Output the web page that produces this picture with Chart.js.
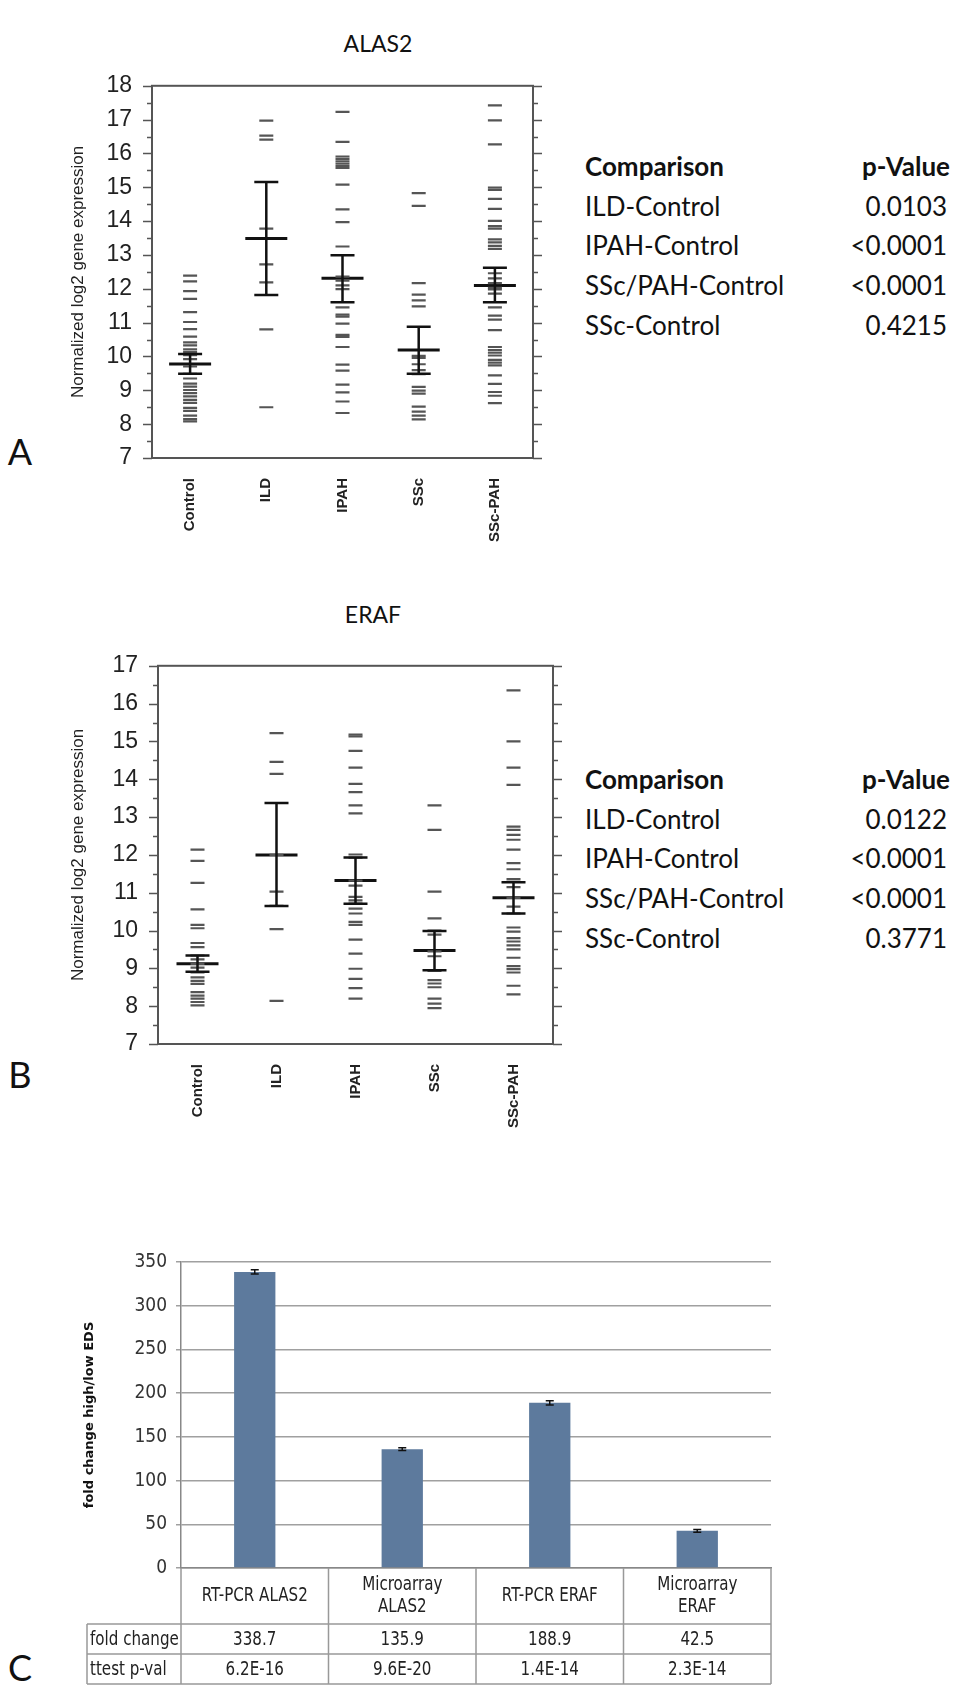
<!DOCTYPE html>
<html>
<head>
<meta charset="utf-8">
<script src="https://cdn.jsdelivr.net/npm/chart.js@4/dist/chart.umd.min.js"></script>
<style>
  body { margin: 0; width: 956px; height: 1685px; background: #fff; position: relative; overflow: hidden; font-family: Lato, "Open Sans", sans-serif; color: #111; }
  canvas { position: absolute; left: 0; }
  .txt { position: absolute; white-space: nowrap; }
  .title { font-size: 23px; transform: translate(-50%, -50%); }
  .letter { font-size: 36px; transform: translate(-50%, -50%); }
  .row { position: absolute; font-size: 26px; line-height: 30px; white-space: nowrap; }
  .pv { position: absolute; width: 150px; text-align: right; font-size: 26px; line-height: 30px; }
</style>
</head>
<body>
<div class="txt title" style="left:378px;top:43px">ALAS2</div>
<div class="txt title" style="left:373px;top:614px">ERAF</div>
<div class="txt letter" style="left:20px;top:451px">A</div>
<div class="txt letter" style="left:20px;top:1074px">B</div>
<div class="txt letter" style="left:20px;top:1667px">C</div>
<div id="cmpA"></div>
<div id="cmpB"></div>

<canvas id="chartA" width="560" height="500" style="top:60px"></canvas>
<canvas id="chartB" width="580" height="500" style="top:640px"></canvas>
<canvas id="chartC" width="956" height="445" style="top:1240px"></canvas>

<script>
// groups for panels A and B
const groups = ['Control', 'ILD', 'IPAH', 'SSc', 'SSc-PAH'];

// ALAS2, single samples per group
const alasControl = [12.39, 12.22, 11.93, 11.70, 11.31, 11.02, 10.81, 10.59, 10.42, 10.33, 10.21, 10.13, 10.04, 9.92, 9.71, 9.49, 9.35, 9.20, 9.11, 9.01, 8.92, 8.82, 8.72, 8.63, 8.48, 8.39, 8.25, 8.15, 8.08];
const alasILD = [16.97, 16.53, 16.41, 13.78, 12.72, 12.19, 10.80, 8.50];
const alasIPAH = [17.23, 16.34, 15.91, 15.84, 15.77, 15.70, 15.63, 15.57, 15.08, 14.35, 13.97, 13.25, 12.36, 12.24, 12.10, 11.99, 11.45, 11.24, 11.18, 10.97, 10.64, 10.58, 10.28, 9.76, 9.58, 9.17, 8.94, 8.67, 8.33];
const alasSSc = [14.83, 14.45, 12.17, 11.83, 11.66, 11.48, 10.02, 9.96, 9.77, 9.60, 9.48, 9.10, 8.99, 8.90, 8.52, 8.37, 8.25, 8.14];
const alasSScPAH = [17.42, 16.98, 16.27, 14.99, 14.92, 14.66, 14.36, 14.01, 13.85, 13.78, 13.46, 13.37, 13.27, 13.18, 12.46, 12.31, 12.17, 12.03, 11.98, 11.86, 11.45, 11.21, 11.09, 10.78, 10.28, 10.19, 10.11, 10.03, 9.90, 9.82, 9.74, 9.44, 9.19, 8.95, 8.84, 8.62];
const alasMean = [9.78, 13.49, 12.31, 10.19, 12.10];
const alasLow = [9.49, 11.82, 11.60, 9.49, 11.60];
const alasHigh = [10.07, 15.16, 12.99, 10.88, 12.62];

// ERAF, single samples per group
const erafControl = [12.14, 11.84, 11.26, 10.56, 10.15, 10.06, 9.67, 9.56, 9.34, 9.24, 9.12, 9.02, 8.89, 8.76, 8.67, 8.59, 8.37, 8.28, 8.20, 8.11, 8.02];
const erafILD = [15.22, 14.46, 14.14, 12.00, 11.03, 10.65, 10.04, 8.14];
const erafIPAH = [15.18, 15.13, 14.75, 14.31, 13.88, 13.66, 13.31, 13.10, 12.01, 11.93, 11.32, 11.19, 10.89, 10.80, 10.71, 10.58, 10.45, 10.23, 10.15, 9.76, 9.39, 8.99, 8.72, 8.48, 8.20];
const erafSSc = [13.31, 12.66, 11.03, 10.32, 10.00, 9.89, 9.45, 9.32, 8.93, 8.69, 8.60, 8.50, 8.20, 8.07, 7.95];
const erafSScPAH = [16.35, 15.00, 14.31, 13.85, 12.75, 12.66, 12.53, 12.40, 12.14, 11.78, 11.62, 11.36, 11.29, 11.15, 10.86, 10.63, 10.45, 10.08, 9.97, 9.80, 9.71, 9.61, 9.50, 9.28, 9.06, 8.98, 8.89, 8.54, 8.31];
const erafMean = [9.12, 12.00, 11.32, 9.47, 10.87];
const erafLow = [8.91, 10.65, 10.71, 8.95, 10.45];
const erafHigh = [9.34, 13.37, 11.93, 9.99, 11.28];

// p-value tables
const comparisons = ['ILD-Control', 'IPAH-Control', 'SSc/PAH-Control', 'SSc-Control'];
const pAlas = ['0.0103', '<0.0001', '<0.0001', '0.4215'];
const pEraf = ['0.0122', '<0.0001', '<0.0001', '0.3771'];

// panel C
const methods = ['RT-PCR ALAS2', 'Microarray ALAS2', 'RT-PCR ERAF', 'Microarray ERAF'];
const methodLines = [['RT-PCR ALAS2'], ['Microarray', 'ALAS2'], ['RT-PCR ERAF'], ['Microarray', 'ERAF']];
const foldChange = [338.7, 135.9, 188.9, 42.5];
const foldErr = [2.5, 1.5, 2.5, 1.5];
const ttestP = ['6.2E-16', '9.6E-20', '1.4E-14', '2.3E-14'];

function fillTable(id, pvals, top) {
  const el = document.getElementById(id);
  let html = '<div class="row" style="left:585px;top:' + top + 'px;font-weight:bold">Comparison</div>' +
             '<div class="pv" style="left:800px;top:' + top + 'px;font-weight:bold">p-Value</div>';
  comparisons.forEach((c, i) => {
    const y = top + 39.7 * (i + 1);
    html += '<div class="row" style="left:585px;top:' + y + 'px">' + c + '</div>';
    html += '<div class="pv" style="left:797px;top:' + y + 'px">' + pvals[i] + '</div>';
  });
  el.innerHTML = html;
}
fillTable('cmpA', pAlas, 151);
fillTable('cmpB', pEraf, 764);

const frame = {
  id: 'frame',
  afterDatasetsDraw(chart, args, opts) {
    const { ctx, chartArea: a, scales: { x, y } } = chart;
    ctx.save();
    ctx.strokeStyle = '#555';
    ctx.lineWidth = 2;
    ctx.strokeRect(a.left, a.top, a.right - a.left, a.bottom - a.top);
    ctx.lineWidth = 1.5;
    for (let v = y.min; v <= y.max; v += 0.5) {
      const py = Math.round(y.getPixelForValue(v)) + 0.5;
      const len = v % 1 === 0 ? 9 : 5;
      ctx.beginPath();
      ctx.moveTo(a.left - len, py); ctx.lineTo(a.left, py);
      ctx.moveTo(a.right, py); ctx.lineTo(a.right + len, py);
      ctx.stroke();
    }
    // error bars
    ctx.strokeStyle = '#111';
    ctx.lineWidth = 2.5;
    opts.lo.forEach((lo, i) => {
      const px = x.getPixelForValue(i);
      const y1 = y.getPixelForValue(lo), y2 = y.getPixelForValue(opts.hi[i]);
      ctx.beginPath();
      ctx.moveTo(px, y1); ctx.lineTo(px, y2);
      ctx.moveTo(px - 12, y1); ctx.lineTo(px + 12, y1);
      ctx.moveTo(px - 12, y2); ctx.lineTo(px + 12, y2);
      ctx.stroke();
    });
    ctx.restore();
  }
};

function dotChart(id, sets, mean, lo, hi, yMax, yWidth, xHeight, padTop) {
  const pts = [];
  groups.forEach((g, i) => sets[i].forEach(v => pts.push({ x: g, y: v })));
  return new Chart(document.getElementById(id), {
    type: 'scatter',
    data: {
      labels: groups,
      datasets: [
        { data: pts, pointStyle: 'line', pointRadius: 7, pointBorderWidth: 2.2, pointBorderColor: '#555', backgroundColor: '#555' },
        { data: groups.map((g, i) => ({ x: g, y: mean[i] })), pointStyle: 'line', pointRadius: 21, pointBorderWidth: 3, pointBorderColor: '#111', backgroundColor: '#111' }
      ]
    },
    options: {
      responsive: false,
      animation: false,
      events: [],
      layout: { padding: { left: 68, top: padTop, right: 27 } },
      plugins: { legend: { display: false }, tooltip: { enabled: false }, frame: { lo, hi } },
      scales: {
        x: {
          type: 'category', labels: groups, offset: true,
          grid: { display: false }, border: { display: false },
          ticks: { minRotation: 90, maxRotation: 90, padding: 12, color: '#222', font: { family: 'Liberation Sans, Arial, sans-serif', weight: 'bold', size: 15 } },
          afterFit: s => { s.height = xHeight; }
        },
        y: {
          min: 7, max: yMax,
          grid: { display: false }, border: { display: false },
          ticks: { stepSize: 1, padding: 12, color: '#222', font: { family: 'Liberation Sans, Arial, sans-serif', size: 23 } },
          title: { display: true, text: 'Normalized log2 gene expression', color: '#222', padding: 0, font: { family: 'Liberation Sans, Arial, sans-serif', size: 17 } },
          afterFit: s => { s.width = yWidth; }
        }
      }
    },
    plugins: [frame]
  });
}

dotChart('chartA', [alasControl, alasILD, alasIPAH, alasSSc, alasSScPAH], alasMean, alasLow, alasHigh, 18, 84, 102, 16);
dotChart('chartB', [erafControl, erafILD, erafIPAH, erafSSc, erafSScPAH], erafMean, erafLow, erafHigh, 17, 90, 96, 20);

const narrow = '"Liberation Sans Narrow", "DejaVu Sans Condensed", sans-serif';

// text squeezed sideways, like the narrow font of the original table
function narrowText(ctx, t, x, y) {
  ctx.save();
  ctx.translate(x, y);
  ctx.scale(0.84, 1);
  ctx.fillText(t, 0, 0);
  ctx.restore();
}

const dataTable = {
  id: 'dataTable',
  afterDraw(chart) {
    const { ctx, chartArea: a, scales: { x, y } } = chart;
    const half = (x.getPixelForValue(1) - x.getPixelForValue(0)) / 2;
    const top = a.bottom, r1 = top + 56, r2 = r1 + 30, bot = chart.height - 1;
    const leftCol = 87;
    ctx.save();
    // error bars
    ctx.strokeStyle = '#111';
    ctx.lineWidth = 1.5;
    foldChange.forEach((v, i) => {
      const px = x.getPixelForValue(i);
      const y1 = y.getPixelForValue(v - foldErr[i]), y2 = y.getPixelForValue(v + foldErr[i]);
      ctx.beginPath();
      ctx.moveTo(px, y1); ctx.lineTo(px, y2);
      ctx.moveTo(px - 4, y1); ctx.lineTo(px + 4, y1);
      ctx.moveTo(px - 4, y2); ctx.lineTo(px + 4, y2);
      ctx.stroke();
    });
    // grid of the table
    ctx.strokeStyle = '#999';
    ctx.lineWidth = 1.5;
    ctx.beginPath();
    [r1, r2, bot].forEach(ry => { ctx.moveTo(leftCol, ry); ctx.lineTo(a.right, ry); });
    methods.forEach((m, i) => {
      const ex = x.getPixelForValue(i) - half;
      ctx.moveTo(ex, top); ctx.lineTo(ex, bot);
    });
    ctx.moveTo(a.right, top); ctx.lineTo(a.right, bot);
    ctx.moveTo(leftCol, r1); ctx.lineTo(leftCol, bot);
    ctx.stroke();
    // texts
    ctx.fillStyle = '#222';
    ctx.font = '20px ' + narrow;
    ctx.textBaseline = 'middle';
    ctx.textAlign = 'center';
    methods.forEach((m, i) => {
      const cx = x.getPixelForValue(i);
      const lines = methodLines[i];
      const mid = (top + r1) / 2;
      lines.forEach((t, k) => narrowText(ctx, t, cx, mid + (k - (lines.length - 1) / 2) * 22));
      narrowText(ctx, foldChange[i].toFixed(1), cx, (r1 + r2) / 2 + 1);
      narrowText(ctx, ttestP[i], cx, (r2 + bot) / 2 + 1);
    });
    ctx.textAlign = 'left';
    narrowText(ctx, 'fold change', leftCol + 3, (r1 + r2) / 2 + 1);
    narrowText(ctx, 'ttest p-val', leftCol + 3, (r2 + bot) / 2 + 1);
    ctx.restore();
  }
};

new Chart(document.getElementById('chartC'), {
  type: 'bar',
  data: {
    labels: methods,
    datasets: [{ data: foldChange, backgroundColor: '#5d7a9d', barPercentage: 0.35, categoryPercentage: 0.8 }]
  },
  options: {
    responsive: false,
    animation: false,
    events: [],
    layout: { padding: { left: 78, top: 22, right: 185 } },
    plugins: { legend: { display: false }, tooltip: { enabled: false } },
    scales: {
      x: {
        grid: { display: false }, border: { color: '#888', width: 1.5 },
        ticks: { display: false },
        afterFit: s => { s.height = 117; }
      },
      y: {
        min: 0, max: 350,
        grid: { color: '#a0a0a0', lineWidth: 1.5, tickLength: 5 },
        border: { color: '#888', width: 1.5 },
        ticks: { stepSize: 50, padding: 9, color: '#333', font: { family: narrow, size: 19 } },
        title: { display: true, text: 'fold change high/low EDS', color: '#111', padding: 4, font: { family: 'DejaVu Sans, sans-serif', weight: 'bold', size: 13 } },
        afterFit: s => { s.width = 103; }
      }
    }
  },
  plugins: [dataTable]
});
</script>
</body>
</html>
